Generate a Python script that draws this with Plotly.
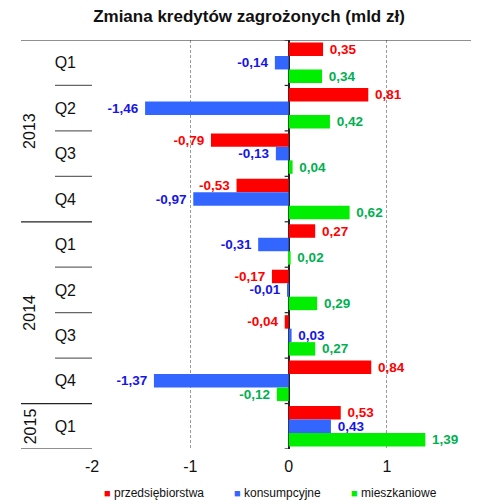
import plotly.graph_objects as go

# dane
kwartaly = ['Q1', 'Q2', 'Q3', 'Q4', 'Q1', 'Q2', 'Q3', 'Q4', 'Q1']
lata = ['2013', '2014', '2015']
przedsiebiorstwa = [0.35, 0.81, -0.79, -0.53, 0.27, -0.17, -0.04, 0.84, 0.53]
konsumpcyjne = [-0.14, -1.46, -0.13, -0.97, -0.31, -0.01, 0.03, -1.37, 0.43]
mieszkaniowe = [0.34, 0.42, 0.04, 0.62, 0.02, 0.29, 0.27, -0.12, 1.39]

serie = [
    ('przedsiębiorstwa', przedsiebiorstwa, '#FF0000', '#FF0000'),
    ('konsumpcyjne', konsumpcyjne, '#3366FF', '#1515E8'),
    ('mieszkaniowe', mieszkaniowe, '#00EE00', '#00B050'),
]

NBSP = '\u00a0'
OFF = 8  # margines body strony
W, H = 479 - OFF, 504 - OFF
ML, MT, MB = 92 - OFF, 40 - OFF, 504 - 449
PW = W - ML
PH = H - MT - MB


def etykieta(v):
    s = f"{v:.2f}".replace('.', ',')
    # odstep od konca slupka
    return NBSP + s if v >= 0 else s + NBSP


def px_x(p):
    # piksel ekranu -> wspolrzedna paper
    return (p - OFF - ML) / PW


def px_y(p):
    return (H - MB - (p - OFF)) / PH


pozycje = list(range(len(kwartaly)))
fig = go.Figure()

for nazwa, wartosci, kolor, kolor_tekstu in serie:
    fig.add_trace(go.Bar(
        y=pozycje, x=wartosci, orientation='h', name=nazwa,
        marker=dict(color=kolor, line=dict(width=0)),
        text=[etykieta(v) for v in wartosci],
        textposition='outside',
        outsidetextfont=dict(family='Liberation Sans', size=13.5, color=kolor_tekstu, weight='bold'),
        constraintext='none', cliponaxis=False,
        showlegend=False, hoverinfo='x+name',
    ))

# linie podzialu w obszarze etykiet
L_ROK = px_x(21)
L_KW = px_x(55)
shapes = [dict(type='line', xref='paper', yref='y', x0=L_ROK, x1=1, y0=-0.5, y1=-0.5,
               line=dict(color='#222', width=1.2))]
for i in range(1, len(kwartaly) + 1):
    yb = i - 0.5
    granica_roku = i in (4, 8, 9)
    shapes.append(dict(type='line', xref='paper', yref='y',
                       x0=L_ROK if granica_roku else L_KW, x1=0, y0=yb, y1=yb,
                       line=dict(color='#222' if granica_roku else '#666', width=1.2)))
# znaczniki na osi zero
for i in range(0, len(kwartaly) + 1):
    yb = i - 0.5
    shapes.append(dict(type='line', xref='x', yref='y', xsizemode='pixel', xanchor=0,
                       x0=-4, x1=0, y0=yb, y1=yb, line=dict(color='#222', width=1.2)))

annotations = []
for rok, yc in zip(lata, [1.5, 5.5, 8]):
    annotations.append(dict(text=rok, xref='paper', yref='y', x=px_x(30), y=yc,
                            textangle=-90, showarrow=False, xanchor='center', yanchor='middle',
                            font=dict(family='Liberation Sans', size=16, color='#111')))

# legenda: kolorowy kwadrat + opis
for (nazwa, _, kolor, _), xl in zip(serie, [102, 232, 349]):
    annotations.append(dict(
        text=f'<span style="color:{kolor};font-size:11px">■</span>{NBSP}{nazwa}',
        xref='paper', yref='paper', x=px_x(xl), y=px_y(493),
        xanchor='left', yanchor='middle', showarrow=False,
        font=dict(family='Liberation Sans', size=12, color='#111')))

fig.update_layout(
    width=W, height=H,
    margin=dict(l=ML, r=0, t=MT, b=MB),
    plot_bgcolor='white', paper_bgcolor='white',
    barmode='group', bargap=0.11, bargroupgap=0.0,
    showlegend=False,
    font=dict(family='Liberation Sans', color='#111'),
    title=dict(text='<b>Zmiana kredytów zagrożonych (mld zł)</b>',
               font=dict(family='Liberation Sans', size=17, color='#111'),
               xref='container', x=(249 - OFF) / W, xanchor='center',
               yref='container', y=1 - (16 - OFF) / H, yanchor='middle'),
    xaxis=dict(range=[-2, 1.936], tickvals=[-2, -1, 0, 1], ticktext=['-2', '-1', '0', '1'],
               showgrid=True, gridcolor='#9a9a9a', griddash='3px,2px', gridwidth=1,
               zeroline=True, zerolinecolor='#222', zerolinewidth=1.5,
               showline=False, ticks='', ticklabelstandoff=6, automargin=False,
               tickfont=dict(family='Liberation Sans', size=16, color='#111')),
    yaxis=dict(range=[8.5, -0.5], tickvals=pozycje, ticktext=kwartaly,
               showgrid=False, zeroline=False, showline=False, ticks='',
               ticklabelstandoff=15, automargin=False,
               tickfont=dict(family='Liberation Sans', size=16, color='#111')),
    shapes=shapes,
    annotations=annotations,
)

fig.write_html('out.html')
